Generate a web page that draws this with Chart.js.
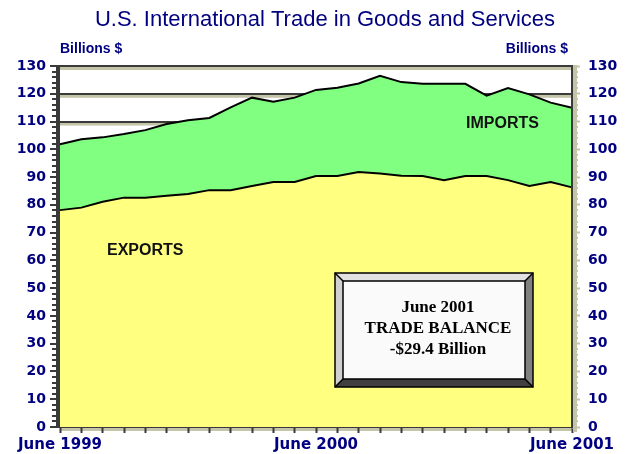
<!DOCTYPE html>
<html>
<head>
<meta charset="utf-8">
<script src="https://cdn.jsdelivr.net/npm/chart.js@4/dist/chart.umd.min.js"></script>
<style>
  html, body { margin: 0; padding: 0; background: #fff; }
  #wrap { width: 625px; height: 454px; position: relative; }
</style>
</head>
<body>
<div id="wrap"><canvas id="tradeChart" width="625" height="454"></canvas></div>
<script>
// Monthly, June 1999 .. June 2001 (billions $)
const months = ['Jun 1999','Jul 1999','Aug 1999','Sep 1999','Oct 1999','Nov 1999','Dec 1999',
  'Jan 2000','Feb 2000','Mar 2000','Apr 2000','May 2000','Jun 2000','Jul 2000','Aug 2000',
  'Sep 2000','Oct 2000','Nov 2000','Dec 2000','Jan 2001','Feb 2001','Mar 2001','Apr 2001',
  'May 2001','Jun 2001'];
const exportsVals = [78.1, 79.0, 81.1, 82.6, 82.6, 83.3, 83.9, 85.3, 85.3, 86.8, 88.2, 88.2, 90.4,
  90.4, 91.8, 91.3, 90.5, 90.4, 88.9, 90.4, 90.4, 88.9, 86.8, 88.2, 86.3];
const importsVals = [101.8, 103.6, 104.3, 105.5, 106.9, 109.1, 110.5, 111.3, 115.1, 118.6, 117.1, 118.6, 121.4,
  122.2, 123.7, 126.5, 124.2, 123.6, 123.6, 123.6, 119.3, 122.1, 119.8, 116.8, 115.0];
const xTickLabels = ['June 1999', 'June 2000', 'June 2001'];
const yTicks = [0, 10, 20, 30, 40, 50, 60, 70, 80, 90, 100, 110, 120, 130];
const boxLines = ['June 2001', 'TRADE BALANCE', '-$29.4 Billion'];

const NAVY = '#000080';
const TAN = '#C4C4A8';
const DARK = '#3a3a3a';

const decor = {
  id: 'decor',
  beforeDraw(chart) {
    const { ctx, chartArea: a, scales: { y } } = chart;
    ctx.save();
    ctx.fillStyle = TAN;
    yTicks.forEach(v => {
      const py = y.getPixelForValue(v);
      ctx.fillRect(a.left, py + 1, a.right - a.left, 3);
    });
    ctx.restore();
  },
  afterDatasetsDraw(chart) {
    const { ctx, chartArea: a, scales: { y } } = chart;
    ctx.save();
    // minor ticks every 2 units
    for (let v = 0; v <= 130; v += 2) {
      if (v % 10 === 0) continue;
      const py = Math.round(y.getPixelForValue(v));
      ctx.fillStyle = DARK;
      ctx.fillRect(a.left - 8, py - 1, 8, 2);
      ctx.fillStyle = TAN;
      ctx.fillRect(a.right, py - 1, 6, 2);
    }
    // left axis bar, right edge
    ctx.fillStyle = DARK;
    ctx.fillRect(a.left - 4, a.top - 1, 4, a.bottom - a.top + 2);
    ctx.fillRect(a.right - 1, a.top - 1, 2, a.bottom - a.top + 2);
    ctx.fillStyle = TAN;
    ctx.fillRect(a.right + 1, a.top - 1, 4, a.bottom - a.top + 6);

    // area labels
    ctx.fillStyle = '#111';
    ctx.font = 'bold 16px "Liberation Sans", Arial, sans-serif';
    ctx.textBaseline = 'middle';
    ctx.textAlign = 'left';
    ctx.fillText('EXPORTS', 107, 251);
    ctx.fillText('IMPORTS', 466, 124);

    // trade balance box
    const x0 = 335, y0 = 273, x1 = 533, y1 = 387, b = 8;
    ctx.fillStyle = '#E2E2E2';
    ctx.beginPath(); ctx.moveTo(x0, y0); ctx.lineTo(x1, y0); ctx.lineTo(x1 - b, y0 + b); ctx.lineTo(x0 + b, y0 + b); ctx.closePath(); ctx.fill();
    ctx.fillStyle = '#D0D0D0';
    ctx.beginPath(); ctx.moveTo(x0, y0); ctx.lineTo(x0 + b, y0 + b); ctx.lineTo(x0 + b, y1 - b); ctx.lineTo(x0, y1); ctx.closePath(); ctx.fill();
    ctx.fillStyle = '#808080';
    ctx.beginPath(); ctx.moveTo(x1, y0); ctx.lineTo(x1, y1); ctx.lineTo(x1 - b, y1 - b); ctx.lineTo(x1 - b, y0 + b); ctx.closePath(); ctx.fill();
    ctx.fillStyle = '#404040';
    ctx.beginPath(); ctx.moveTo(x0, y1); ctx.lineTo(x1, y1); ctx.lineTo(x1 - b, y1 - b); ctx.lineTo(x0 + b, y1 - b); ctx.closePath(); ctx.fill();
    ctx.fillStyle = '#FAFAFA';
    ctx.fillRect(x0 + b, y0 + b, x1 - x0 - 2 * b, y1 - y0 - 2 * b);
    ctx.strokeStyle = '#000';
    ctx.lineWidth = 1.5;
    ctx.strokeRect(x0, y0, x1 - x0, y1 - y0);
    ctx.strokeRect(x0 + b, y0 + b, x1 - x0 - 2 * b, y1 - y0 - 2 * b);
    ctx.beginPath();
    ctx.moveTo(x0, y0); ctx.lineTo(x0 + b, y0 + b);
    ctx.moveTo(x1, y0); ctx.lineTo(x1 - b, y0 + b);
    ctx.moveTo(x0, y1); ctx.lineTo(x0 + b, y1 - b);
    ctx.moveTo(x1, y1); ctx.lineTo(x1 - b, y1 - b);
    ctx.stroke();
    ctx.fillStyle = '#000';
    ctx.font = 'bold 17px "Liberation Serif", "Times New Roman", serif';
    ctx.textAlign = 'center';
    boxLines.forEach((t, i) => ctx.fillText(t, 438, 308 + i * 21));

    // title + axis captions
    ctx.fillStyle = NAVY;
    ctx.font = '22px "Liberation Sans", Arial, sans-serif';
    ctx.fillText('U.S. International Trade in Goods and Services', 325, 20);
    ctx.font = 'bold 14px "Liberation Sans", Arial, sans-serif';
    ctx.textAlign = 'left';
    ctx.fillText('Billions $', 60, 49);
    ctx.textAlign = 'right';
    ctx.fillText('Billions $', 568, 49);
    ctx.restore();
  }
};

const tickFont = { family: '"DejaVu Sans", sans-serif', size: 14, weight: 'bold' };

new Chart(document.getElementById('tradeChart'), {
  type: 'line',
  data: {
    labels: months,
    datasets: [
      {
        label: 'Exports',
        data: exportsVals,
        borderColor: '#000', borderWidth: 2,
        backgroundColor: '#FFFF80',
        fill: 'origin', pointRadius: 0, tension: 0
      },
      {
        label: 'Imports',
        data: importsVals,
        borderColor: '#000', borderWidth: 2,
        backgroundColor: '#80FF80',
        fill: '-1', pointRadius: 0, tension: 0
      }
    ]
  },
  options: {
    responsive: false, animation: false,
    layout: { padding: { top: 66, left: 0, right: 0, bottom: 0 } },
    plugins: { legend: { display: false }, tooltip: { enabled: false }, title: { display: false } },
    scales: {
      x: {
        offset: false,
        grid: { drawOnChartArea: false, drawTicks: true, tickLength: 6, tickColor: DARK, tickWidth: 2 },
        border: { display: false },
        ticks: {
          autoSkip: false, maxRotation: 0, padding: 3, color: NAVY,
          font: { family: '"DejaVu Sans", sans-serif', size: 15, weight: 'bold' },
          callback: (v, i) => (i % 12 === 0 ? xTickLabels[i / 12] : '')
        },
        afterFit: s => { s.height = 27; }
      },
      y: {
        position: 'left', min: 0, max: 130,
        grid: { color: DARK, lineWidth: 2, tickLength: 10, tickColor: DARK, tickWidth: 2 },
        border: { display: false },
        ticks: { stepSize: 10, color: NAVY, font: tickFont, padding: 4 },
        afterFit: s => { s.width = 60; }
      },
      y2: {
        position: 'right', min: 0, max: 130,
        grid: { drawOnChartArea: false, tickLength: 8, tickColor: TAN, tickWidth: 2 },
        border: { display: false },
        ticks: { stepSize: 10, color: NAVY, font: tickFont, padding: 8 },
        afterFit: s => { s.width = 53; }
      }
    }
  },
  plugins: [decor]
});
</script>
</body>
</html>
